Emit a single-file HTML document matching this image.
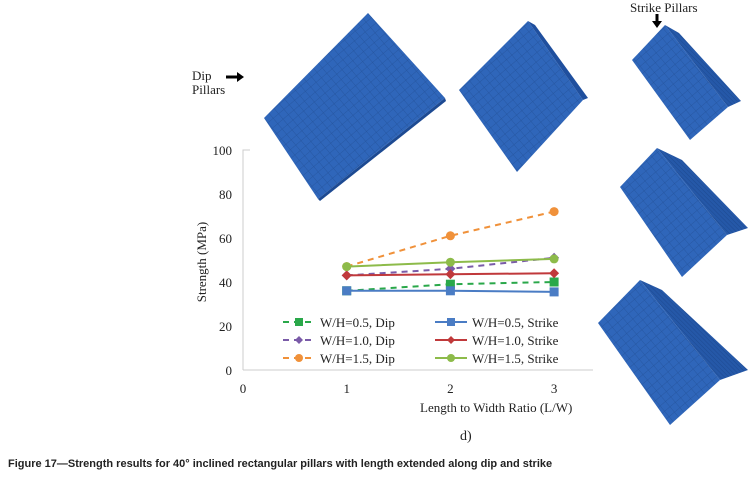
<!DOCTYPE html>
<html><head><meta charset="utf-8"><style>
body{margin:0;background:#fff;}
svg{display:block;}
.t{font-family:"Liberation Serif",serif;fill:#222;}
</style></head><body>
<svg width="753" height="478" viewBox="0 0 753 478">
<defs>
<pattern id="mesh" width="7" height="7" patternUnits="userSpaceOnUse" patternTransform="rotate(-40)">
<rect width="7" height="7" fill="#2f66ba"/>
<path d="M0 0H7M0 0V7" stroke="#24539c" stroke-width="0.8"/>
</pattern>
<pattern id="mesh2" width="7" height="7" patternUnits="userSpaceOnUse" patternTransform="rotate(50)">
<rect width="7" height="7" fill="#2f66ba"/>
<path d="M0 0H7M0 0V7" stroke="#24539c" stroke-width="0.8"/>
</pattern>
<pattern id="side" width="3" height="3" patternUnits="userSpaceOnUse" patternTransform="rotate(45)">
<rect width="3" height="3" fill="#2558a8"/>
<path d="M0 0H3" stroke="#1d4a92" stroke-width="1"/>
</pattern>
</defs>
<g>
<polygon points="368,13 445,98 318,199 264,118" fill="url(#mesh)"/>
<polygon points="445,98 446,101 320,201 318,199" fill="#1d4a92"/>
</g>
<g>
<polygon points="528,21 583,100 517,172 459,90" fill="url(#mesh2)"/>
<polygon points="528,21 535,25 588,98 583,100" fill="#1f4f9e"/>
</g>
<g>
<polygon points="665,25 728,107 690,140 632,60" fill="url(#mesh2)"/>
<polygon points="665,25 679,33 741,101 728,107" fill="url(#side)"/>
</g>
<g>
<polygon points="657,148 727,235 682,277 620,187" fill="url(#mesh2)"/>
<polygon points="657,148 682,160 748,228 727,235" fill="url(#side)"/>
</g>
<g>
<polygon points="640,280 720,380 670,425 598,323" fill="url(#mesh2)"/>
<polygon points="640,280 662,290 748,370 720,380" fill="url(#side)"/>
</g>
<text class="t" x="192" y="80" font-size="13">Dip</text>
<text class="t" x="192" y="94" font-size="13">Pillars</text>
<path d="M226 77H238" stroke="#000" stroke-width="3"/>
<polygon points="237,72 244,77 237,82" fill="#000"/>
<text class="t" x="630" y="12" font-size="13">Strike Pillars</text>
<path d="M657 14V22" stroke="#000" stroke-width="3"/>
<polygon points="652,21 657,28 662,21" fill="#000"/>
<g id="chart"></g>
<text class="t" x="420" y="412" font-size="13">Length to Width Ratio (L/W)</text>
<text class="t" x="460" y="440" font-size="14">d)</text>
<text class="t" transform="translate(206,262) rotate(-90)" text-anchor="middle" font-size="13">Strength (MPa)</text>
<text x="8" y="467" font-family="Liberation Sans,sans-serif" font-weight="bold" font-size="11" fill="#222">Figure 17—Strength results for 40° inclined rectangular pillars with length extended along dip and strike</text>
</svg>
<script>
const categories=[1,2,3];
const xTicks=[0,1,2,3];
const yTicks=[0,20,40,60,80,100];
const dip05=[36,39,40];
const dip10=[43,46,51];
const dip15=[47,61,72];
const strike05=[36,36,35.5];
const strike10=[43,43.5,44];
const strike15=[47,49,50.5];
const names=["W/H=0.5, Dip","W/H=1.0, Dip","W/H=1.5, Dip","W/H=0.5, Strike","W/H=1.0, Strike","W/H=1.5, Strike"];
const NS="http://www.w3.org/2000/svg";
const g=document.getElementById('chart');
const X=v=>243+v*103.7, Y=v=>370-v*2.2;
function mk(t,a){const e=document.createElementNS(NS,t);for(const k in a)e.setAttribute(k,a[k]);g.appendChild(e);return e;}
let e=mk('path',{d:`M${X(0)} ${Y(0)}H593M${X(0)} ${Y(0)}V${Y(100)}H250`,stroke:'#ccc',fill:'none'});


yTicks.forEach(v=>{const t=mk('text',{x:232,y:Y(v)+5,'text-anchor':'end','font-size':13,class:'t'});t.textContent=v;

});
xTicks.forEach(v=>{const t=mk('text',{x:X(v),y:393,'text-anchor':'middle','font-size':13,class:'t'});t.textContent=v;

});
const series=[
{d:dip05,c:'#2aa84a',dash:'6,5',m:'sq'},{d:dip10,c:'#7a5ba8',dash:'6,5',m:'di'},{d:dip15,c:'#f0913a',dash:'6,5',m:'ci'},
{d:strike05,c:'#4a7cc4',dash:'',m:'sq'},{d:strike10,c:'#c0393b',dash:'',m:'di'},{d:strike15,c:'#8dbb4a',dash:'',m:'ci'}];
function marker(type,x,y,c,s){
 if(type==='sq')return mk('rect',{x:x-s,y:y-s,width:2*s,height:2*s,fill:c});
 if(type==='di')return mk('polygon',{points:`${x},${y-s} ${x+s},${y} ${x},${y+s} ${x-s},${y}`,fill:c});
 return mk('circle',{cx:x,cy:y,r:s,fill:c});}
series.forEach((s,i)=>{
 const l=mk('polyline',{points:categories.map((c,j)=>X(c)+','+Y(s.d[j])).join(' '),fill:'none',stroke:s.c,'stroke-width':2,'stroke-dasharray':s.dash});
 
 
 categories.forEach((c,j)=>{const m=marker(s.m,X(c),Y(s.d[j]),s.c,s.m==='di'?5:4.5);
 
 });
 const col=i<3?0:1,row=i%3,lx=col?435:283,ly=322+row*18;
 const ll=mk('line',{x1:lx,x2:lx+32,y1:ly,y2:ly,stroke:s.c,'stroke-width':2,'stroke-dasharray':s.dash});
 
 
 const lm=marker(s.m,lx+16,ly,s.c,4);
 
 
 const t=mk('text',{x:lx+37,y:ly+5,'font-size':13,class:'t'});t.textContent=names[i];
 
 
});
</script>
</body></html>
